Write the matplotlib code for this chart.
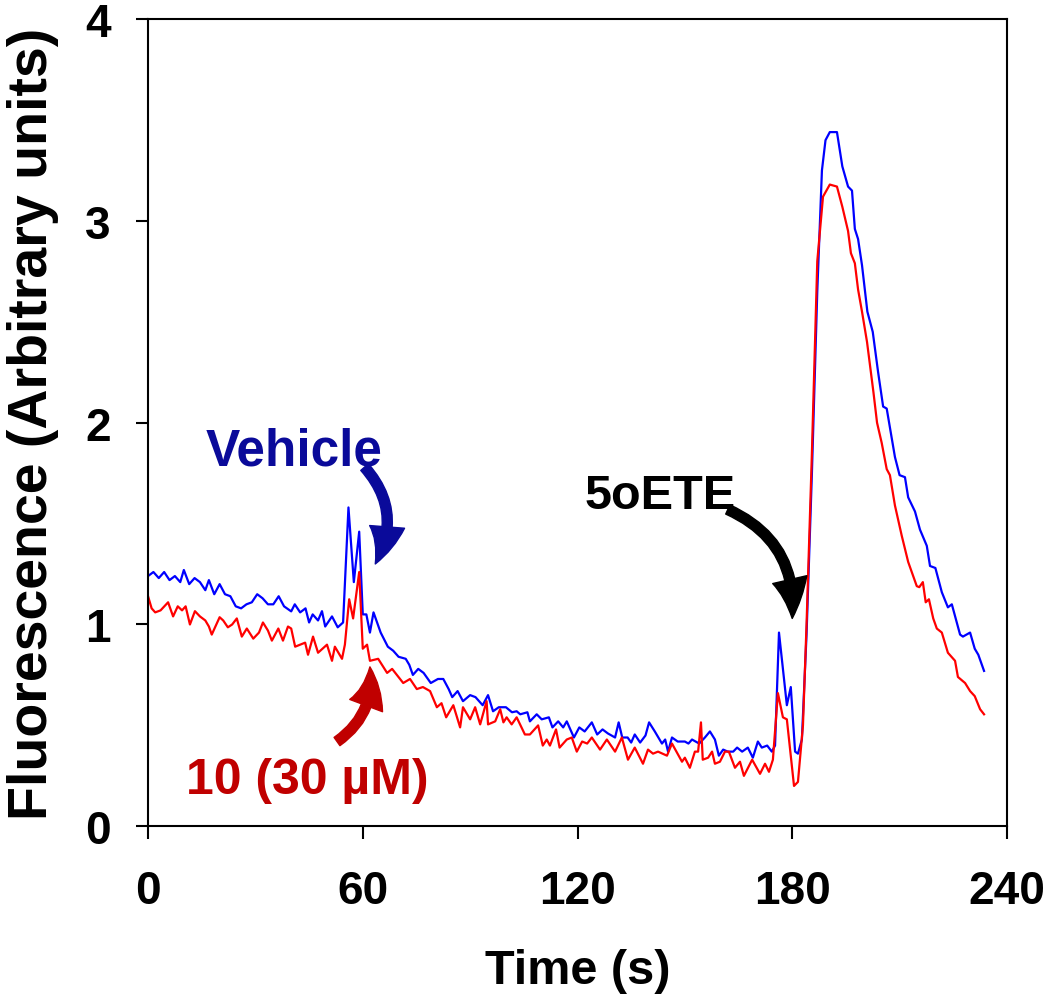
import matplotlib
matplotlib.use("Agg")
import matplotlib.pyplot as plt

plt.rcParams["font.family"] = ["Liberation Sans", "DejaVu Sans"]
plt.rcParams["font.weight"] = "bold"

##################################################
# Data
vehicle_t = [0, 1.5, 3, 4.5, 6, 7.5, 9, 10, 11.5, 13, 14.5, 16, 17, 18.5, 20, 21.5, 23, 24.5,
             26, 27.5, 29, 30.5, 32, 33.5, 35, 36.5, 38, 40, 41, 42.5, 44, 45, 46, 47.5, 48.6,
             49.5, 51.4, 53, 54.5, 56, 57.5, 59, 60, 61, 62, 63, 65, 67, 68.5, 70, 72, 73, 74,
             75.5, 77, 79, 81, 82.5, 84, 85, 86.5, 88, 90, 91.5, 93.5, 95, 96.4, 98, 100, 101.7,
             103, 104, 106, 106.7, 108.6, 110, 112, 113, 114.6, 116, 117, 119, 120.5, 122, 124,
             125.5, 127, 128.5, 130.5, 131.5, 132.5, 134, 135, 136, 137.5, 139, 140, 141.6, 143.6,
             144.5, 145.3, 146.4, 148, 150, 151, 152, 154, 155.6, 157, 158.4, 159.5, 160.7, 162,
             163.5, 164.6, 166, 167.6, 169, 170.4, 171.5, 173, 174.3, 175.2, 176.3, 177.4, 178.5,
             179.6, 180.8, 181.6, 182.7, 184, 185.5, 187, 188.3, 189.3, 190.5, 192.5, 194, 195.6,
             196.7, 197.5, 198.4, 199.5, 201, 202.5, 204, 205.4, 206.4, 208.7, 210, 211.5, 212.4,
             214.3, 215.7, 217.6, 218.5, 220, 221.8, 223.5, 224.6, 226.9, 227.7, 229.7, 231, 232,
             233.6]
vehicle_f = [1.24, 1.26, 1.23, 1.26, 1.22, 1.24, 1.21, 1.27, 1.20, 1.23, 1.21, 1.17, 1.22, 1.15,
             1.20, 1.15, 1.14, 1.09, 1.08, 1.10, 1.11, 1.15, 1.13, 1.10, 1.10, 1.14, 1.09, 1.065,
             1.10, 1.06, 1.08, 1.01, 1.05, 1.02, 1.066, 0.99, 1.04, 0.986, 1.01, 1.58, 1.21, 1.46,
             1.05, 1.05, 0.96, 1.06, 0.96, 0.89, 0.87, 0.84, 0.83, 0.80, 0.75, 0.78, 0.76, 0.71,
             0.73, 0.73, 0.68, 0.64, 0.67, 0.62, 0.65, 0.64, 0.60, 0.65, 0.57, 0.59, 0.59, 0.565,
             0.57, 0.555, 0.565, 0.52, 0.555, 0.53, 0.54, 0.49, 0.52, 0.49, 0.52, 0.44, 0.49, 0.47,
             0.515, 0.455, 0.48, 0.46, 0.44, 0.515, 0.44, 0.44, 0.415, 0.455, 0.415, 0.45, 0.515,
             0.47, 0.41, 0.43, 0.37, 0.44, 0.42, 0.42, 0.41, 0.43, 0.41, 0.44, 0.47, 0.43, 0.35,
             0.38, 0.37, 0.37, 0.39, 0.37, 0.39, 0.34, 0.42, 0.39, 0.40, 0.37, 0.40, 0.96, 0.78,
             0.60, 0.69, 0.37, 0.36, 0.43, 0.95, 1.75, 2.65, 3.25, 3.40, 3.44, 3.44, 3.27, 3.17,
             3.15, 2.96, 2.91, 2.78, 2.55, 2.45, 2.25, 2.08, 2.07, 1.83, 1.74, 1.73, 1.63, 1.56,
             1.47, 1.39, 1.29, 1.28, 1.16, 1.085, 1.10, 0.95, 0.94, 0.96, 0.88, 0.85, 0.77]

cpd_t = [0, 1, 2, 3.5, 5.6, 7, 8.3, 9.5, 10.5, 11.7, 13.1, 14.5, 16, 17, 17.8, 20, 21, 22.3, 23.5,
         24.8, 26.2, 27.6, 29.4, 31, 32.1, 33.5, 34.6, 36.4, 37.7, 39.1, 40, 41.1, 43.9, 44.7,
         46.1, 47.5, 50, 51.4, 52.2, 54.2, 55, 56.2, 57.3, 59, 60, 61.2, 62, 64.3, 66.8, 68.2,
         71.3, 73.2, 75.1, 76.8, 78.8, 80.7, 82, 83.3, 85.3, 87.2, 88, 90, 91.4, 92.8, 94.6, 95,
         97, 98.4, 99.3, 100.2, 101.6, 103, 105.3, 106.7, 109, 110.3, 111.4, 112.3, 114, 115, 117,
         118.4, 119.8, 121.3, 122.7, 124, 126.3, 128.2, 130.5, 132.4, 134.1, 136, 138.3, 139.7,
         141.1, 142.5, 145, 146.4, 149.2, 150, 151.4, 152.8, 153.7, 154.5, 155, 156.5, 157.6,
         158.4, 159.8, 161.2, 162.3, 164, 165.4, 166.5, 168.8, 171, 172.4, 173.5, 174.6, 176,
         177.4, 178.5, 180.5, 181.6, 183, 184, 185.5, 187, 188.6, 190.5, 192.5, 194, 195.6, 196.4,
         197.5, 198.4, 199.5, 200.9, 202.7, 203.7, 205, 206.4, 207.3, 208.7, 210.6, 212.4, 213.4,
         214.8, 215.5, 216.5, 217.3, 218.2, 219.4, 220.4, 221.8, 223.5, 225.5, 226.3, 228.3,
         229.7, 231, 232.5, 233.6]
cpd_f = [1.14, 1.08, 1.06, 1.07, 1.11, 1.04, 1.09, 1.07, 1.09, 1.00, 1.066, 1.04, 1.02, 0.99,
         0.95, 1.036, 1.02, 0.986, 1.00, 1.03, 0.94, 0.98, 0.93, 0.96, 1.01, 0.97, 0.92, 0.98,
         0.92, 0.99, 0.98, 0.89, 0.91, 0.85, 0.94, 0.86, 0.90, 0.82, 0.89, 0.83, 0.90, 1.125,
         1.03, 1.26, 0.88, 0.90, 0.82, 0.83, 0.76, 0.78, 0.71, 0.73, 0.68, 0.69, 0.67, 0.59,
         0.61, 0.54, 0.60, 0.49, 0.59, 0.53, 0.59, 0.505, 0.62, 0.505, 0.52, 0.58, 0.515, 0.54,
         0.505, 0.54, 0.455, 0.455, 0.50, 0.40, 0.43, 0.40, 0.48, 0.39, 0.43, 0.44, 0.37, 0.42,
         0.41, 0.44, 0.38, 0.43, 0.37, 0.44, 0.33, 0.39, 0.31, 0.38, 0.36, 0.37, 0.35, 0.41,
         0.32, 0.34, 0.29, 0.37, 0.37, 0.515, 0.33, 0.34, 0.37, 0.31, 0.32, 0.37, 0.37, 0.29,
         0.32, 0.25, 0.33, 0.26, 0.31, 0.27, 0.33, 0.66, 0.54, 0.53, 0.20, 0.22, 0.50, 1.00,
         1.85, 2.80, 3.12, 3.18, 3.17, 3.07, 2.95, 2.84, 2.79, 2.66, 2.55, 2.40, 2.15, 2.00,
         1.90, 1.77, 1.74, 1.59, 1.44, 1.31, 1.26, 1.19, 1.185, 1.21, 1.11, 1.125, 1.03, 0.98,
         0.96, 0.86, 0.82, 0.74, 0.71, 0.67, 0.645, 0.58, 0.555]

x_ticks = [0, 60, 120, 180, 240]
y_ticks = [0, 1, 2, 3, 4]

##################################################
# Plot
fig = plt.figure(figsize=(10.5, 10.04), dpi=100)
ax = fig.add_axes([0.141, 0.176, 0.818, 0.804])

ax.plot(vehicle_t, vehicle_f, color="#0000FF", lw=1.6)
ax.plot(cpd_t, cpd_f, color="#FF0000", lw=1.6)

ax.set_xlim(0, 240)
ax.set_ylim(0, 4)
ax.set_xticks(x_ticks)
ax.set_yticks(y_ticks)
for s in ax.spines.values():
    s.set_linewidth(1.5)
ax.tick_params(direction="out", length=9, width=1.5, labelsize=33)
ax.tick_params(axis="x", pad=22)
ax.tick_params(axis="y", pad=18)
for lab in ax.get_xticklabels() + ax.get_yticklabels():
    lab.set_fontweight("bold")

ax.set_xlabel("Time (s)", fontsize=35, fontweight="bold", labelpad=25)
ax.set_ylabel("Fluorescence (Arbitrary units)", fontsize=40, fontweight="bold", labelpad=19)

arrow = "simple,head_length=1.0,head_width=0.9,tail_width=0.26"

ax.text(40.8, 1.86, "Vehicle", color="#0A0A9A", fontsize=37, fontweight="bold",
        ha="center", va="center")
ax.annotate("", xy=(63.5, 1.30), xytext=(60.5, 1.78),
            arrowprops=dict(arrowstyle=arrow, color="#0A0A9A", mutation_scale=28,
                            connectionstyle="arc3,rad=-0.35", shrinkA=0, shrinkB=0))

ax.text(44.4, 0.23, "10 (30 µM)", color="#C00000", fontsize=36, fontweight="bold",
        ha="center", va="center")
ax.annotate("", xy=(62, 0.79), xytext=(52.8, 0.42),
            arrowprops=dict(arrowstyle=arrow, color="#C00000", mutation_scale=28,
                            connectionstyle="arc3,rad=0.3", shrinkA=0, shrinkB=0))

ax.text(143, 1.64, "5oETE", color="black", fontsize=35, fontweight="bold",
        ha="center", va="center")
ax.annotate("", xy=(180, 1.03), xytext=(162, 1.57),
            arrowprops=dict(arrowstyle=arrow, color="black", mutation_scale=28,
                            connectionstyle="arc3,rad=-0.35", shrinkA=0, shrinkB=0))

fig.savefig("out.png", dpi=100)
